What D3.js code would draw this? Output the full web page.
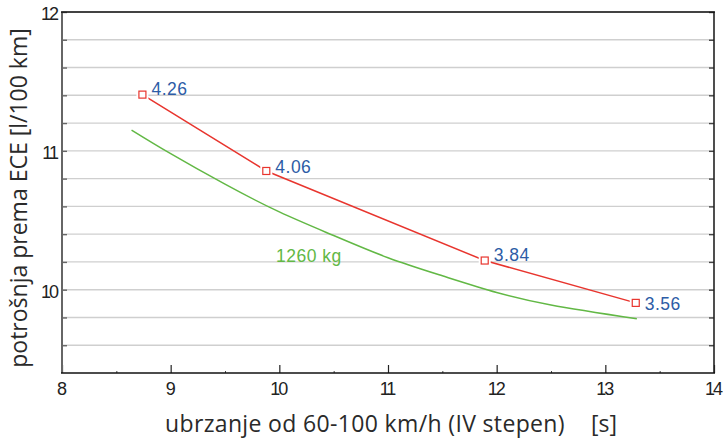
<!DOCTYPE html>
<html>
<head>
<meta charset="utf-8">
<script src="https://cdn.jsdelivr.net/npm/d3@7"></script>
<style>
  body { margin: 0; background: #fff; }
  svg { display: block; }
  .tick-label { font-family: "Liberation Sans", Arial, sans-serif; font-size: 18px; letter-spacing: -2px; fill: #222; }
  .title { font-family: "Open Sans", sans-serif; font-size: 23px; fill: #2a2a2a; }
  .val { font-family: "Liberation Sans", Arial, sans-serif; font-size: 17.5px; letter-spacing: 0.5px; }
</style>
</head>
<body>
<div id="chart"></div>
<script>
// data
const redX = [8.74, 9.88, 11.89, 13.28];
const redY = [11.405, 10.855, 10.21, 9.905];
const redLabels = ["4.26", "4.06", "3.84", "3.56"];

const greenX = [8.64, 9.0, 9.5, 10.0, 10.5, 11.0, 11.5, 12.0, 12.5, 13.29];
const greenY = [11.15, 10.98, 10.76, 10.56, 10.39, 10.23, 10.10, 9.98, 9.89, 9.79];
const greenLabel = "1260 kg";

const xTicks = [8, 9, 10, 11, 12, 13, 14];
const yTicks = [10, 11, 12];

const xTitle = "ubrzanje od 60-100 km/h (IV stepen)";
const xUnit = "[s]";
const yTitle = "potrošnja prema ECE [l/100 km]";

const width = 724, height = 439;
const pLeft = 62, pRight = 714, pTop = 12, pBottom = 373;

const svg = d3.select("#chart").append("svg")
    .attr("width", width)
    .attr("height", height);

const x = d3.scaleLinear().domain([8, 14]).range([pLeft, pRight]);
const y = d3.scaleLinear().domain([9.4, 12]).range([pBottom, pTop]);

// grid every 0.2
const gridVals = d3.range(9.6, 12.0, 0.2).map(v => +v.toFixed(1));
svg.append("g")
    .selectAll("line")
    .data(gridVals)
    .enter().append("line")
    .attr("x1", pLeft).attr("x2", pRight)
    .attr("y1", d => y(d)).attr("y2", d => y(d))
    .attr("stroke", "#cfcfcf")
    .attr("stroke-width", 1.4);

// left / right inward ticks
svg.append("g")
    .attr("transform", `translate(${pLeft},0)`)
    .call(d3.axisRight(y).tickValues(gridVals).tickSize(5).tickFormat(""))
    .call(g => g.select(".domain").remove())
    .selectAll("line").attr("stroke", "#666").attr("stroke-width", 1.4);
svg.append("g")
    .attr("transform", `translate(${pRight},0)`)
    .call(d3.axisLeft(y).tickValues(gridVals).tickSize(5).tickFormat(""))
    .call(g => g.select(".domain").remove())
    .selectAll("line").attr("stroke", "#444").attr("stroke-width", 1.4);

// bottom ticks: majors inward and small minors
svg.append("g")
    .attr("transform", `translate(0,${pBottom})`)
    .call(d3.axisTop(x).tickValues(xTicks).tickSize(8).tickFormat(""))
    .call(g => g.select(".domain").remove())
    .selectAll("line").attr("stroke", "#222").attr("stroke-width", 1.2);
svg.append("g")
    .attr("transform", `translate(0,${pBottom})`)
    .call(d3.axisTop(x).tickValues(d3.range(8.5, 14, 1)).tickSize(2).tickFormat(""))
    .call(g => g.select(".domain").remove())
    .selectAll("line").attr("stroke", "#444").attr("stroke-width", 1);

// frame
svg.append("line").attr("x1", pLeft).attr("x2", pLeft).attr("y1", pTop).attr("y2", pBottom)
    .attr("stroke", "#666").attr("stroke-width", 2);
svg.append("line").attr("x1", pRight).attr("x2", pRight).attr("y1", pTop).attr("y2", pBottom)
    .attr("stroke", "#222").attr("stroke-width", 1.6);
svg.append("line").attr("x1", pLeft - 1).attr("x2", pRight + 1).attr("y1", pTop).attr("y2", pTop)
    .attr("stroke", "#111").attr("stroke-width", 1.6);
svg.append("line").attr("x1", pLeft - 1).attr("x2", pRight + 1).attr("y1", pBottom).attr("y2", pBottom)
    .attr("stroke", "#111").attr("stroke-width", 1.6);

// tick labels
svg.append("g").selectAll("text")
    .data(xTicks)
    .enter().append("text")
    .attr("class", "tick-label")
    .attr("x", d => x(d) - 1)
    .attr("y", 395)
    .attr("text-anchor", "middle")
    .text(d => d);
svg.append("g").selectAll("text")
    .data(yTicks)
    .enter().append("text")
    .attr("class", "tick-label")
    .attr("x", pLeft - 5)
    .attr("y", d => y(d) + 8)
    .attr("text-anchor", "end")
    .text(d => d);

// green curve
const green = greenX.map((v, i) => [v, greenY[i]]);
const greenLine = d3.line().x(d => x(d[0])).y(d => y(d[1])).curve(d3.curveNatural);
svg.append("path")
    .attr("d", greenLine(green))
    .attr("fill", "none")
    .attr("stroke", "#62b845")
    .attr("stroke-width", 1.5);

svg.append("text")
    .attr("class", "val")
    .attr("x", x(9.97))
    .attr("y", y(10.2))
    .attr("letter-spacing", 0)
    .attr("fill", "#62b845")
    .text(greenLabel);

// red line with markers
const red = redX.map((v, i) => [v, redY[i], redLabels[i]]);
const redLine = d3.line().x(d => x(d[0])).y(d => y(d[1]));
svg.append("path")
    .attr("d", redLine(red))
    .attr("fill", "none")
    .attr("stroke", "#e8352e")
    .attr("stroke-width", 1.5);

const pts = svg.append("g").selectAll("g")
    .data(red)
    .enter().append("g")
    .attr("transform", d => `translate(${x(d[0])},${y(d[1])})`);
pts.append("rect")
    .attr("x", -6).attr("y", -6).attr("width", 12).attr("height", 12)
    .attr("fill", "#fff");
pts.append("rect")
    .attr("x", -3.5).attr("y", -3.5).attr("width", 7).attr("height", 7)
    .attr("fill", "#fff")
    .attr("stroke", "#e8352e")
    .attr("stroke-width", 1.2);

const labelDy = [0, 2, 0, 7];
pts.append("text")
    .attr("class", "val")
    .attr("x", 9)
    .attr("y", (d, i) => labelDy[i])
    .attr("fill", "#2d5ca6")
    .text(d => d[2]);

// axis titles
svg.append("text")
    .attr("class", "title")
    .attr("x", 165)
    .attr("y", 432)
    .attr("letter-spacing", 0.35)
    .text(xTitle);
svg.append("text")
    .attr("class", "title")
    .attr("x", 591)
    .attr("y", 432)
    .text(xUnit);
svg.append("text")
    .attr("class", "title")
    .attr("transform", `translate(27,${(373 + 23) / 2}) rotate(-90)`)
    .attr("text-anchor", "middle")
    .text(yTitle);
</script>
</body>
</html>
